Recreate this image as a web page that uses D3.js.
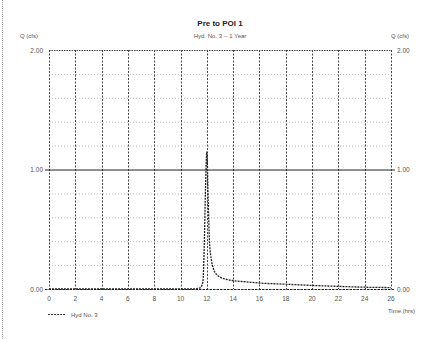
<!DOCTYPE html>
<html>
<head>
<meta charset="utf-8">
<script src="https://cdn.jsdelivr.net/npm/d3@7"></script>
<style>
  body { margin: 0; background: #fff; }
  text { font-family: "Liberation Sans", Arial, sans-serif; fill: #555; }
</style>
</head>
<body>
<div id="chart"></div>
<script>
// hydrograph values
var hours = [0, 2, 4, 6, 8, 10, 11, 11.5, 11.7, 11.8, 11.9, 12.0, 12.1, 12.2, 12.35, 12.5, 12.75, 13, 13.5, 14, 15, 16, 18, 20, 22, 24, 26];
var flow  = [0, 0, 0, 0, 0, 0, 0, 0.01, 0.06, 0.35, 0.85, 1.15, 0.75, 0.4, 0.24, 0.17, 0.12, 0.1, 0.08, 0.07, 0.06, 0.05, 0.04, 0.03, 0.022, 0.015, 0.012];
var xTicks = [0, 2, 4, 6, 8, 10, 12, 14, 16, 18, 20, 22, 24, 26];
var yTicks = [0, 1, 2];
var yGrid = [0.2, 0.4, 0.6, 0.8, 1.2, 1.4, 1.6, 1.8];

var width = 426, height = 339;
var svg = d3.select("#chart").append("svg")
    .attr("width", width)
    .attr("height", height);

var x = d3.scaleLinear().domain([0, 26]).range([49, 391]);
var y = d3.scaleLinear().domain([0, 2]).range([289, 50]);

// page border on the left
svg.append("line")
    .attr("x1", 2.5).attr("x2", 2.5).attr("y1", 0).attr("y2", height)
    .attr("stroke", "#999").attr("stroke-dasharray", "1,1");

// light horizontal grid
svg.append("g").selectAll("line")
    .data(yGrid).enter().append("line")
    .attr("x1", x(0)).attr("x2", x(26))
    .attr("y1", d => y(d) + 0.5).attr("y2", d => y(d) + 0.5)
    .attr("stroke", "#bbb").attr("stroke-dasharray", "1,2");

// vertical grid every 2 hrs
svg.append("g").selectAll("line")
    .data(xTicks).enter().append("line")
    .attr("x1", d => Math.round(x(d)) + 0.5).attr("x2", d => Math.round(x(d)) + 0.5)
    .attr("y1", y(2)).attr("y2", y(0))
    .attr("stroke", "#444").attr("stroke-dasharray", "2,1.5");

// top, middle and bottom lines
svg.append("line")
    .attr("x1", x(0)).attr("x2", x(26)).attr("y1", y(2) + 0.5).attr("y2", y(2) + 0.5)
    .attr("stroke", "#444").attr("stroke-dasharray", "1.5,1");
svg.append("line")
    .attr("x1", x(0) - 4).attr("x2", x(26) + 4).attr("y1", y(1) + 0.5).attr("y2", y(1) + 0.5)
    .attr("stroke", "#222").attr("stroke-width", 1);
svg.append("line")
    .attr("x1", x(0) - 4).attr("x2", x(26) + 4).attr("y1", y(0) + 0.5).attr("y2", y(0) + 0.5)
    .attr("stroke", "#222").attr("stroke-dasharray", "2.5,1");

// left and right y labels
svg.append("g").selectAll("text")
    .data(yTicks).enter().append("text")
    .attr("x", x(0) - 6).attr("y", d => y(d) + 2.5)
    .attr("text-anchor", "end").attr("font-size", 6.5)
    .text(d => d.toFixed(2));
svg.append("g").selectAll("text")
    .data(yTicks).enter().append("text")
    .attr("x", x(26) + 6).attr("y", d => y(d) + 2.5)
    .attr("font-size", 6.5)
    .text(d => d.toFixed(2));

// x labels
svg.append("g").selectAll("text")
    .data(xTicks).enter().append("text")
    .attr("x", d => x(d)).attr("y", 301)
    .attr("text-anchor", "middle").attr("font-size", 6.5)
    .text(d => d);

// titles
svg.append("text").attr("x", 220).attr("y", 26)
    .attr("text-anchor", "middle").attr("font-size", 8).attr("font-weight", "bold")
    .style("fill", "#222").text("Pre to POI 1");
svg.append("text").attr("x", 220).attr("y", 38)
    .attr("text-anchor", "middle").attr("font-size", 6).text("Hyd. No. 3 -- 1 Year");
svg.append("text").attr("x", 20).attr("y", 38)
    .attr("font-size", 6).text("Q (cfs)");
svg.append("text").attr("x", 391).attr("y", 38)
    .attr("font-size", 6).text("Q (cfs)");
svg.append("text").attr("x", 415).attr("y", 313)
    .attr("text-anchor", "end").attr("font-size", 6).text("Time (hrs)");

// legend
svg.append("line")
    .attr("x1", 48).attr("x2", 65).attr("y1", 314.5).attr("y2", 314.5)
    .attr("stroke", "#333").attr("stroke-dasharray", "2,1");
svg.append("text").attr("x", 71).attr("y", 317)
    .attr("font-size", 6).text("Hyd No. 3");

// hydrograph
var line = d3.line()
    .x((d, i) => x(hours[i]))
    .y(d => y(d))
    .curve(d3.curveMonotoneX);
svg.append("path")
    .datum(flow)
    .attr("d", line)
    .attr("fill", "none")
    .attr("stroke", "#222")
    .attr("stroke-width", 1.3)
    .attr("stroke-dasharray", "2,1");
</script>
</body>
</html>
